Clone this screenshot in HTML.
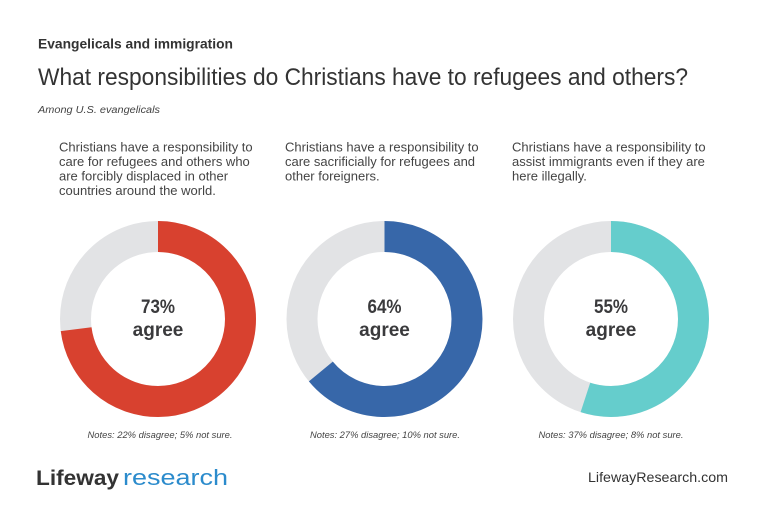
<!DOCTYPE html>
<html>
<head>
<meta charset="utf-8">
<style>
  html,body{margin:0;padding:0;background:#fff;}
  svg{display:block;}
  text{font-family:"Liberation Sans", sans-serif;}
</style>
</head>
<body>
<svg width="768" height="530" viewBox="0 0 768 530" xmlns="http://www.w3.org/2000/svg">
  <rect width="768" height="530" fill="#fff"/>

  <!-- Header -->
  <text x="38" y="48.5" font-size="13.5" font-weight="bold" fill="#333" textLength="195" lengthAdjust="spacingAndGlyphs">Evangelicals and immigration</text>
  <text x="38" y="85" font-size="24" fill="#333" textLength="650" lengthAdjust="spacingAndGlyphs">What responsibilities do Christians have to refugees and others?</text>
  <text x="38" y="113" font-size="10" font-style="italic" fill="#444" textLength="122" lengthAdjust="spacingAndGlyphs">Among U.S. evangelicals</text>

  <!-- Column texts -->
  <g font-size="13" fill="#444">
    <text x="59" y="151.5">Christians have a responsibility to</text>
    <text x="59" y="166">care for refugees and others who</text>
    <text x="59" y="180.5">are forcibly displaced in other</text>
    <text x="59" y="195">countries around the world.</text>

    <text x="285" y="151.5">Christians have a responsibility to</text>
    <text x="285" y="166">care sacrificially for refugees and</text>
    <text x="285" y="180.5">other foreigners.</text>

    <text x="512" y="151.5">Christians have a responsibility to</text>
    <text x="512" y="166">assist immigrants even if they are</text>
    <text x="512" y="180.5">here illegally.</text>
  </g>

  <!-- Donut 1 -->
  <g transform="translate(158,319)">
    <circle r="82.5" fill="none" stroke="#e2e3e5" stroke-width="31"/>
    <circle r="82.5" fill="none" stroke="#d8412f" stroke-width="31"
      stroke-dasharray="378.40 600" transform="rotate(-90)"/>
  </g>
  <!-- Donut 2 -->
  <g transform="translate(384.5,319)">
    <circle r="82.5" fill="none" stroke="#e2e3e5" stroke-width="31"/>
    <circle r="82.5" fill="none" stroke="#3767a9" stroke-width="31"
      stroke-dasharray="331.75 600" transform="rotate(-90)"/>
  </g>
  <!-- Donut 3 -->
  <g transform="translate(611,319)">
    <circle r="82.5" fill="none" stroke="#e2e3e5" stroke-width="31"/>
    <circle r="82.5" fill="none" stroke="#65cdcc" stroke-width="31"
      stroke-dasharray="285.10 600" transform="rotate(-90)"/>
  </g>

  <!-- Donut labels -->
  <g font-size="19" font-weight="bold" fill="#3a3a3c" text-anchor="middle">
    <text x="158" y="313" textLength="34" lengthAdjust="spacingAndGlyphs">73%</text>
    <text x="158" y="336">agree</text>
    <text x="384.5" y="313" textLength="34" lengthAdjust="spacingAndGlyphs">64%</text>
    <text x="384.5" y="336">agree</text>
    <text x="611" y="313" textLength="34" lengthAdjust="spacingAndGlyphs">55%</text>
    <text x="611" y="336">agree</text>
  </g>

  <!-- Notes -->
  <g font-size="9.5" font-style="italic" fill="#444" text-anchor="middle">
    <text x="160" y="438" textLength="145" lengthAdjust="spacingAndGlyphs">Notes: 22% disagree; 5% not sure.</text>
    <text x="385" y="438" textLength="150" lengthAdjust="spacingAndGlyphs">Notes: 27% disagree; 10% not sure.</text>
    <text x="611" y="438" textLength="145" lengthAdjust="spacingAndGlyphs">Notes: 37% disagree; 8% not sure.</text>
  </g>

  <!-- Footer -->
  <text x="36" y="485" font-size="21" font-weight="bold" fill="#333" textLength="83" lengthAdjust="spacingAndGlyphs">Lifeway</text>
  <text x="123" y="485" font-size="22" fill="#2b8bcc" textLength="105" lengthAdjust="spacingAndGlyphs">research</text>
  <text x="588" y="482" font-size="14" fill="#333" textLength="140" lengthAdjust="spacingAndGlyphs">LifewayResearch.com</text>
</svg>
</body>
</html>
